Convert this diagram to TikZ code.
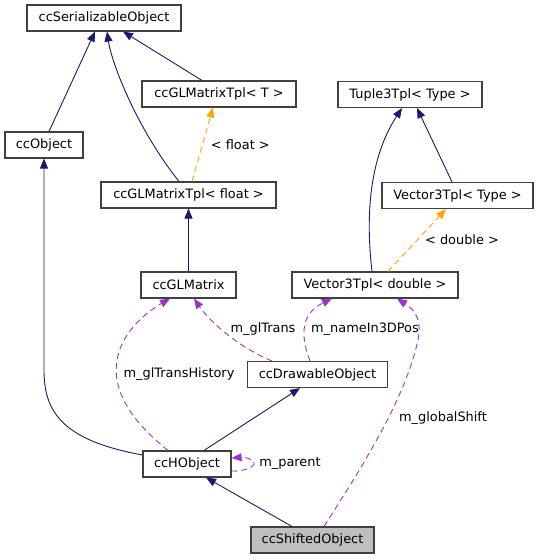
\documentclass[tikz,border=0pt]{standalone}
\usepackage{fontspec}
\setmainfont{DejaVu Sans}
\usetikzlibrary{arrows.meta}
\definecolor{navy}{HTML}{191970}
\definecolor{orchid}{HTML}{9A32CD}
\definecolor{orng}{HTML}{FFA500}
\definecolor{bordr}{HTML}{404040}
\begin{document}
\begin{tikzpicture}[x=1pt,y=-1pt,
  box/.style={draw=bordr,line width=1.1pt,fill=white,minimum height=26pt,inner sep=0pt,
    font=\fontsize{12.9}{15}\selectfont,text=black},
  lbl/.style={font=\fontsize{12.9}{15}\selectfont,text=black,inner sep=0pt},
  inh/.style={draw=navy,line width=0.9pt,-{Triangle[length=10pt,width=8pt]}},
  tmpl/.style={draw=orng,line width=0.9pt,dash pattern=on 6pt off 4pt,-{Triangle[length=10pt,width=8pt]}},
  use/.style={draw=orchid,line width=0.9pt,dash pattern=on 6pt off 4pt,-{Triangle[length=10pt,width=8pt]}}]
\useasboundingbox (0,0) rectangle (539,559);
\fill[white] (0,0) rectangle (539,559);
% nodes
\node[box,minimum width=154pt] (ser) at (104,18) {ccSerializableObject};
\node[box,minimum width=154pt] (tplT) at (219,94) {ccGLMatrixTpl< T >};
\node[box,minimum width=78pt] (obj) at (44,145) {ccObject};
\node[box,minimum width=175pt] (tplf) at (188.5,195) {ccGLMatrixTpl< float >};
\node[box,minimum width=144pt] (tuple) at (410,94.5) {Tuple3Tpl< Type >};
\node[box,minimum width=151pt] (vecT) at (457.5,195.5) {Vector3Tpl< Type >};
\node[box,minimum width=166pt] (vecd) at (375,285) {Vector3Tpl< double >};
\node[box,minimum width=95pt] (glm) at (188.5,285) {ccGLMatrix};
\node[box,minimum width=140pt] (drw) at (317.5,374.5) {ccDrawableObject};
\node[box,minimum width=88pt] (hobj) at (187,464) {ccHObject};
\node[box,minimum width=123pt,fill={rgb,255:red,191;green,191;blue,191}] (shift) at (312.5,540) {ccShiftedObject};
% inheritance
\draw[inh] ([xshift=5pt]obj.north) -- ([xshift=-9pt]ser.south);
\draw[inh] ([xshift=-9.5pt]tplf.north) .. controls (138,130) and (112,65) .. ([xshift=3pt]ser.south);
\draw[inh] ([xshift=-17pt]tplT.north) -- ([xshift=19pt]ser.south);
\draw[inh] (glm.north) -- (tplf.south);
\draw[inh] ([xshift=-3pt]vecd.north) .. controls (366,220) and (368,160) .. ([xshift=-8pt]tuple.south);
\draw[inh] ([xshift=-5.5pt]vecT.north) -- ([xshift=7pt]tuple.south);
\draw[inh] ([xshift=17pt]hobj.north) -- ([xshift=-17.5pt]drw.south);
\draw[inh] ([yshift=9pt]hobj.west) .. controls (60,440) and (44,410) .. (44,370) -- (obj.south);
\draw[inh] ([xshift=-20.5pt]shift.north) -- ([xshift=19pt]hobj.south);
% template
\draw[tmpl] ([xshift=3.5pt]tplf.north) -- node[lbl,pos=0.5,right=8pt] {< float >} ([xshift=-6pt]tplT.south);
\draw[tmpl] ([xshift=13pt]vecd.north) -- ([xshift=-11.5pt]vecT.south);
\node[lbl] (ldouble) at (462,240) {< double >};
% usage
\draw[use] ([xshift=-45.5pt]drw.north) .. controls (240,348) and (210,322) .. ([xshift=5.5pt]glm.south);
\node[lbl] (lgltrans) at (263,329) {m\_glTrans};
\draw[use] ([xshift=-7.5pt]drw.north) .. controls (302,340) and (298,315) .. ([xshift=-43pt]vecd.south);
\node[lbl] (lname) at (365,329) {m\_nameIn3DPos};
\draw[use] ([xshift=11.5pt]shift.north) .. controls (360,470) and (405,400) .. (418,340) .. controls (422,320) and (415,310) .. ([xshift=22pt]vecd.south);
\node[lbl] (lglobal) at (443,418) {m\_globalShift};
\draw[use] ([xshift=-19pt]hobj.north) .. controls (130,420) and (112,390) .. (117,360) .. controls (122,330) and (150,310) .. ([xshift=-18.5pt]glm.south);
\node[lbl] (lhist) at (179,374) {m\_glTransHistory};
\draw[use] ([yshift=-7pt]hobj.east) .. controls (245,472) and (255,466) .. (254,463) .. controls (253,459) and (245,457) .. ([yshift=6pt]hobj.east);
\node[lbl] (lparent) at (290,463) {m\_parent};
\end{tikzpicture}
\end{document}
